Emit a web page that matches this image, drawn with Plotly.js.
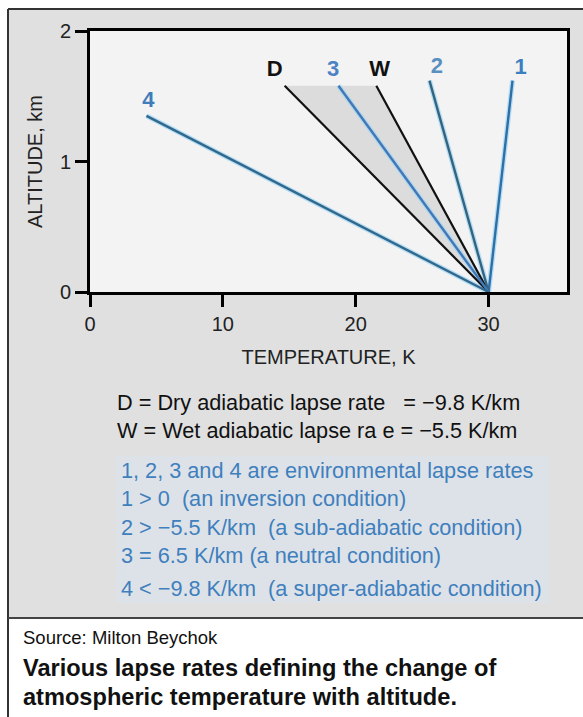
<!DOCTYPE html>
<html>
<head>
<meta charset="utf-8">
<script src="https://cdn.plot.ly/plotly-3.0.1.min.js"></script>
<style>html,body{margin:0;padding:0;background:#fff}#chart{width:583px;height:717px}</style>
</head>
<body>
<div id="chart"></div>
<script>
// ---- data ----
const lineNames = ['D', 'W', '1', '2', '3', '4'];
const baseTemp = 30;
const baseAlt = 0;
const topTemp = [14.65, 21.55, 31.8, 25.55, 18.7, 4.25];
const topAlt = [1.58, 1.58, 1.62, 1.62, 1.58, 1.35];
const labelTemp = [13.9, 21.8, 32.4, 26.1, 18.3, 4.4];
const labelAlt = [1.70, 1.70, 1.71, 1.72, 1.70, 1.46];
const lineColors = ['#111111', '#111111', '#2f6fa6', '#35647f', '#4477b5', '#32688c'];
const labelColors = ['#111111', '#111111', '#3c7fbf', '#5a90c0', '#4a82c4', '#3f7dba'];
const xTicks = [0, 10, 20, 30];
const yTicks = [0, 1, 2];
const defLines = ['D = Dry adiabatic lapse rate   = \u22129.8 K/km',
                  'W = Wet adiabatic lapse ra e = \u22125.5 K/km'];
const envLines = ['1, 2, 3 and 4 are environmental lapse rates',
                  '1 &gt; 0  (an inversion condition)',
                  '2 &gt; \u22125.5 K/km  (a sub-adiabatic condition)',
                  '3 = 6.5 K/km (a neutral condition)',
                  '4 &lt; \u22129.8 K/km  (a super-adiabatic condition)'];
const sourceText = 'Source: Milton Beychok';
const captionLines = ['Various lapse rates defining the change of',
                      'atmospheric temperature with altitude.'];

// ---- layout helpers ----
const W = 583, H = 717;
const px = v => v / W;
const py = v => 1 - v / H;
const FONT = 'Liberation Sans, Arial, sans-serif';

const traces = [];
// shaded region between D and W
const iD = lineNames.indexOf('D'), iW = lineNames.indexOf('W');
traces.push({
  x: [baseTemp, topTemp[iD], topTemp[iW], baseTemp],
  y: [baseAlt, topAlt[iD], topAlt[iW], baseAlt],
  mode: 'lines', fill: 'toself', fillcolor: '#dcdcdc',
  line: {width: 0, color: 'rgba(0,0,0,0)'}, hoverinfo: 'skip', showlegend: false
});
// halos for environmental lines
lineNames.forEach((n, i) => {
  if (n === 'D' || n === 'W') return;
  traces.push({
    x: [baseTemp, topTemp[i]], y: [baseAlt, topAlt[i]], mode: 'lines',
    line: {color: 'rgba(160,215,245,0.75)', width: 5}, hoverinfo: 'skip', showlegend: false
  });
});
lineNames.forEach((n, i) => {
  traces.push({
    x: [baseTemp, topTemp[i]], y: [baseAlt, topAlt[i]], mode: 'lines', name: n,
    line: {color: lineColors[i], width: (n === 'D' || n === 'W') ? 2.2 : 2.4}, showlegend: false
  });
});
traces.push({
  x: labelTemp, y: labelAlt, mode: 'text', text: lineNames,
  textfont: {family: FONT, size: 22, color: labelColors, weight: 'bold'},
  textposition: 'middle center', hoverinfo: 'skip', showlegend: false
});

const annotations = [];
defLines.forEach((t, i) => annotations.push({
  xref: 'paper', yref: 'paper', x: px(115), y: py(402 + i * 28), xanchor: 'left', yanchor: 'middle',
  text: t, showarrow: false, font: {family: FONT, size: 21.7, color: '#111111'}
}));
const envY = [470, 498, 527, 555, 588];
envLines.forEach((t, i) => annotations.push({
  xref: 'paper', yref: 'paper', x: px(119), y: py(envY[i]), xanchor: 'left', yanchor: 'middle',
  text: t, showarrow: false, font: {family: FONT, size: 21.7, color: '#3f7fbd'}
}));
annotations.push({
  xref: 'paper', yref: 'paper', x: px(21), y: py(637), xanchor: 'left', yanchor: 'middle',
  text: sourceText, showarrow: false, font: {family: FONT, size: 18.5, color: '#111111'}
});
captionLines.forEach((t, i) => annotations.push({
  xref: 'paper', yref: 'paper', x: px(21), y: py(668 + i * 29), xanchor: 'left', yanchor: 'middle',
  text: t, showarrow: false, font: {family: FONT, size: 23.6, color: '#111111', weight: 'bold'}
}));

const shapes = [
  // grey panel
  {type: 'rect', xref: 'paper', yref: 'paper', x0: px(8), x1: px(590), y0: py(618), y1: py(9),
   fillcolor: '#e0e0e0', line: {width: 0}, layer: 'below'},
  // faint highlight behind blue text
  {type: 'rect', xref: 'paper', yref: 'paper', x0: px(116), x1: px(548), y0: py(603), y1: py(456),
   fillcolor: '#dde2e8', line: {width: 0}, layer: 'below'},
  // plot area background
  {type: 'rect', xref: 'paper', yref: 'paper', x0: px(90), x1: px(567), y0: py(292), y1: py(31),
   fillcolor: '#f3f3f3', line: {width: 0}, layer: 'below'},
  // borders
  {type: 'line', xref: 'paper', yref: 'paper', x0: px(8), x1: px(8), y0: py(9), y1: py(717),
   line: {color: '#333333', width: 2}},
  {type: 'line', xref: 'paper', yref: 'paper', x0: px(8), x1: px(590), y0: py(9), y1: py(9),
   line: {color: '#333333', width: 2}},
  {type: 'line', xref: 'paper', yref: 'paper', x0: px(8), x1: px(590), y0: py(618), y1: py(618),
   line: {color: '#444444', width: 2}}
];

const layout = {
  width: W, height: H,
  margin: {l: 0, r: 0, t: 0, b: 0},
  paper_bgcolor: '#ffffff', plot_bgcolor: 'rgba(0,0,0,0)',
  showlegend: false,
  xaxis: {
    domain: [px(90), px(567)], range: [0, 35.9], tickvals: xTicks, ticktext: xTicks.map(String),
    showgrid: false, zeroline: false, showline: true, linewidth: 3, linecolor: '#000', mirror: true,
    ticks: 'outside', ticklen: 12, tickwidth: 3, tickcolor: '#000',
    tickfont: {family: FONT, size: 20, color: '#222'},
    title: {text: 'TEMPERATURE, K', font: {family: FONT, size: 20, color: '#222'}, standoff: 16},
    fixedrange: true
  },
  yaxis: {
    domain: [py(292), py(31)], range: [0, 2], tickvals: yTicks, ticktext: yTicks.map(String),
    showgrid: false, zeroline: false, showline: true, linewidth: 3, linecolor: '#000', mirror: true,
    ticks: 'outside', ticklen: 12, tickwidth: 3, tickcolor: '#000',
    tickfont: {family: FONT, size: 20, color: '#222'},
    title: {text: 'ALTITUDE, km', font: {family: FONT, size: 20, color: '#222'}, standoff: 12},
    fixedrange: true
  },
  shapes: shapes,
  annotations: annotations
};

Plotly.newPlot('chart', traces, layout, {displayModeBar: false, staticPlot: true});
</script>
</body>
</html>
